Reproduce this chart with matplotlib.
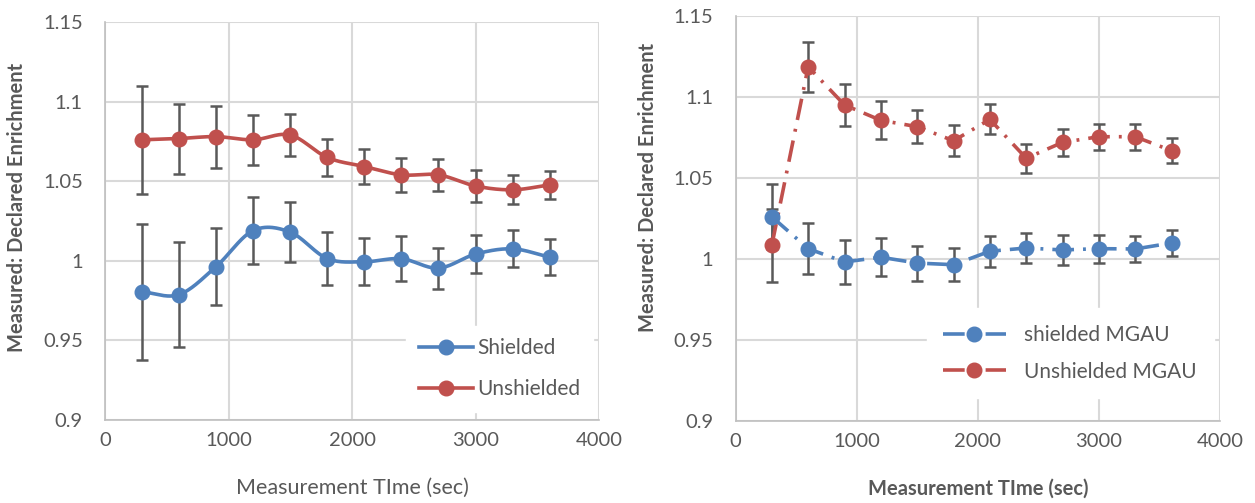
import numpy as np
import matplotlib
matplotlib.use("Agg")
import matplotlib.pyplot as plt

# -----------------------------
# data
# -----------------------------
time_sec = [300, 600, 900, 1200, 1500, 1800, 2100, 2400, 2700, 3000, 3300, 3600]

shielded = [0.9805, 0.9788, 0.9964, 1.019, 1.018, 1.0014, 0.9994, 1.0013, 0.9954, 1.0042, 1.0075, 1.0023]
shielded_err = [0.0425, 0.033, 0.0243, 0.021, 0.019, 0.0167, 0.0147, 0.014, 0.0128, 0.012, 0.0117, 0.0115]
unshielded = [1.076, 1.0768, 1.078, 1.076, 1.079, 1.0649, 1.0592, 1.054, 1.054, 1.047, 1.0446, 1.0477]
unshielded_err = [0.034, 0.022, 0.0195, 0.0157, 0.0129, 0.0117, 0.011, 0.0107, 0.0101, 0.0099, 0.0091, 0.0088]

mgau_shielded = [1.0259, 1.0062, 0.998, 1.0009, 0.9973, 0.9963, 1.0046, 1.0066, 1.0054, 1.0062, 1.006, 1.0097]
mgau_shielded_err = [0.02, 0.0157, 0.0135, 0.0118, 0.0108, 0.0103, 0.0096, 0.0092, 0.009, 0.0086, 0.0083, 0.0082]
mgau_unshielded = [1.0083, 1.1185, 1.0949, 1.0854, 1.0815, 1.0728, 1.086, 1.062, 1.0718, 1.0753, 1.0753, 1.0667]
mgau_unshielded_err = [0.0225, 0.0155, 0.013, 0.0118, 0.0103, 0.0095, 0.0093, 0.0088, 0.0084, 0.008, 0.008, 0.0078]

BLUE = '#4f81bd'
RED = '#c0504d'
GRAY = '#595959'
GRID = '#d9d9d9'

plt.rcParams['font.family'] = ['Lato', 'DejaVu Sans']


def smooth(x, y, n=30):
    # catmull-rom style curve, like excel's "smoothed line"
    x = np.asarray(x, float)
    y = np.asarray(y, float)
    pts = np.column_stack([x, y])
    tan = np.zeros_like(pts)
    tan[1:-1] = (pts[2:] - pts[:-2]) / 2
    tan[0] = pts[1] - pts[0]
    tan[-1] = pts[-1] - pts[-2]
    out = []
    t = np.linspace(0, 1, n)[:, None]
    h00 = 2 * t**3 - 3 * t**2 + 1
    h10 = t**3 - 2 * t**2 + t
    h01 = -2 * t**3 + 3 * t**2
    h11 = t**3 - t**2
    for i in range(len(pts) - 1):
        seg = h00 * pts[i] + h10 * tan[i] + h01 * pts[i + 1] + h11 * tan[i + 1]
        out.append(seg if i == 0 else seg[1:])
    out = np.vstack(out)
    return out[:, 0], out[:, 1]


def style_axes(ax):
    ax.set_xlim(0, 4000)
    ax.set_ylim(0.9, 1.15)
    ax.set_xticks([0, 1000, 2000, 3000, 4000])
    ax.set_yticks([0.9, 0.95, 1.0, 1.05, 1.1, 1.15])
    ax.set_yticklabels(['0.9', '0.95', '1', '1.05', '1.1', '1.15'])
    ax.grid(True, color=GRID, linewidth=1.5, zorder=0)
    ax.set_axisbelow(True)
    for side in ['top', 'right']:
        ax.spines[side].set_visible(False)
    for side in ['left', 'bottom']:
        ax.spines[side].set_color('#bfbfbf')
        ax.spines[side].set_linewidth(1.2)
    ax.tick_params(axis='both', length=0, labelsize=14.5, colors=GRAY)
    ax.tick_params(axis='y', pad=16)
    ax.tick_params(axis='x', pad=9)


fig = plt.figure(figsize=(12.55, 5.03), dpi=100)
ax1 = fig.add_axes([105 / 1255, 83 / 503, 494 / 1255, 398 / 503])
ax2 = fig.add_axes([735.5 / 1255, 82.3 / 503, 484.5 / 1255, 405 / 503])

# -----------------------------
# left panel: smoothed lines
# -----------------------------
style_axes(ax1)
err_kw = dict(fmt='none', ecolor=GRAY, elinewidth=1.8, capsize=4.5, capthick=1.8, zorder=3)
ax1.errorbar(time_sec, shielded, yerr=shielded_err, **err_kw)
ax1.errorbar(time_sec, unshielded, yerr=unshielded_err, **err_kw)

sx, sy = smooth(time_sec, shielded)
ax1.plot(sx, sy, color=BLUE, lw=2.6, zorder=4)
ax1.plot(time_sec, shielded, 'o', color=BLUE, ms=10.5, zorder=5)
ux, uy = smooth(time_sec, unshielded)
ax1.plot(ux, uy, color=RED, lw=2.6, zorder=4)
ax1.plot(time_sec, unshielded, 'o', color=RED, ms=10.5, zorder=5)

h1 = ax1.plot([], [], '-o', color=BLUE, lw=2.6, ms=10.5, label='Shielded')[0]
h2 = ax1.plot([], [], '-o', color=RED, lw=2.6, ms=10.5, label='Unshielded')[0]
leg1 = ax1.legend(handles=[h1, h2], loc='lower right', bbox_to_anchor=(1.0, 0.005),
                  frameon=True, fancybox=False, edgecolor='white', facecolor='white',
                  framealpha=1, fontsize=15, labelcolor=GRAY, numpoints=1,
                  handlelength=2.6, handletextpad=0.2, labelspacing=1.0,
                  borderpad=0.6, borderaxespad=0.3)

ax1.set_xlabel('Measurement TIme (sec)', fontsize=15.5, color=GRAY)
ax1.set_ylabel('Measured: Declared Enrichment', fontsize=14.5, color=GRAY, fontweight='bold')
ax1.xaxis.set_label_coords(0.5, -0.145)
ax1.yaxis.set_label_coords(-0.158, 0.535)

# -----------------------------
# right panel: dash-dot lines
# -----------------------------
style_axes(ax2)
ax2.errorbar(time_sec, mgau_shielded, yerr=mgau_shielded_err, **err_kw)
ax2.errorbar(time_sec, mgau_unshielded, yerr=mgau_unshielded_err, **err_kw)

dashdot = (0, (6, 2.5, 0.8, 2.5))
ax2.plot(time_sec, mgau_shielded, color=BLUE, lw=2.6, linestyle=dashdot, zorder=4)
ax2.plot(time_sec, mgau_shielded, 'o', color=BLUE, ms=10.5, zorder=5)
ax2.plot(time_sec, mgau_unshielded, color=RED, lw=2.6, linestyle=dashdot, zorder=4)
ax2.plot(time_sec, mgau_unshielded, 'o', color=RED, ms=10.5, zorder=5)

g1 = ax2.plot([], [], 'o', color=BLUE, lw=2.6, ms=10.5, linestyle=dashdot, label='shielded MGAU')[0]
g2 = ax2.plot([], [], 'o', color=RED, lw=2.6, ms=10.5, linestyle=dashdot, label='Unshielded MGAU')[0]
leg2 = ax2.legend(handles=[g1, g2], loc='lower right', bbox_to_anchor=(1.0, 0.04),
                  frameon=True, fancybox=False, edgecolor='white', facecolor='white',
                  framealpha=1, fontsize=15, labelcolor=GRAY, numpoints=1,
                  handlelength=3.0, handletextpad=0.9, labelspacing=0.8,
                  borderpad=0.8, borderaxespad=0.3)

ax2.set_xlabel('Measurement TIme (sec)', fontsize=14.5, color=GRAY, fontweight='bold')
ax2.set_ylabel('Measured: Declared Enrichment', fontsize=14.5, color=GRAY, fontweight='bold')
ax2.xaxis.set_label_coords(0.5, -0.143)
ax2.yaxis.set_label_coords(-0.16, 0.575)

fig.savefig('out.png', dpi=100, facecolor='white')
